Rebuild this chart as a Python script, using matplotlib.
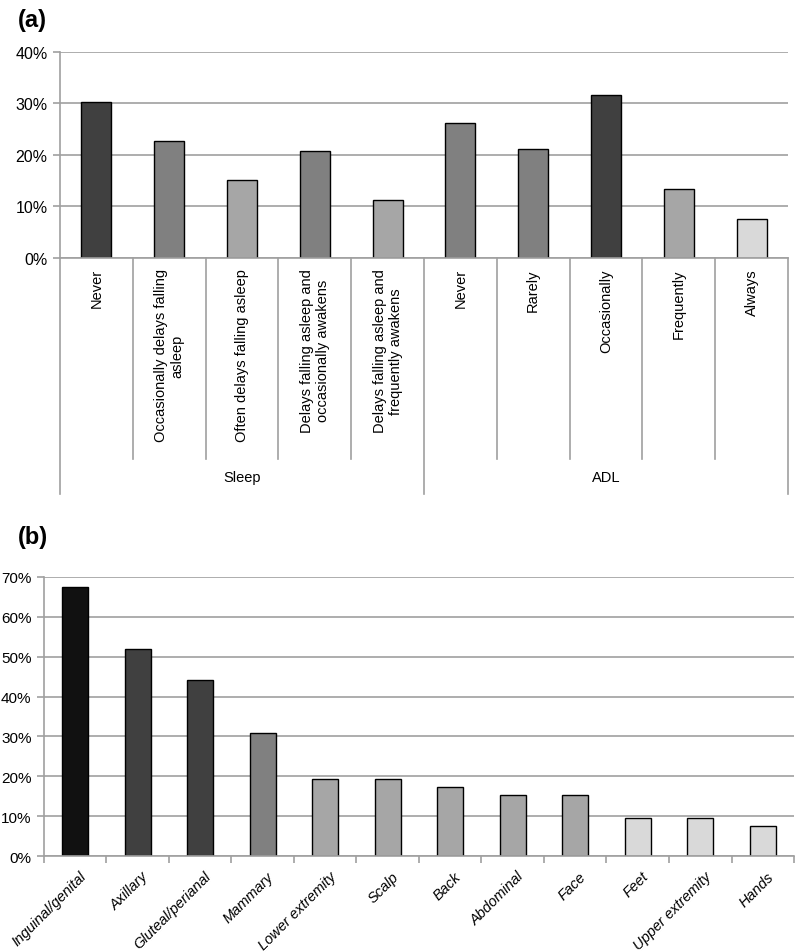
import matplotlib
matplotlib.use('Agg')
import matplotlib.pyplot as plt
import numpy as np

plt.rcParams['font.family'] = ['Liberation Sans', 'DejaVu Sans']

# panel (a)
cats_a = ['Never', 'Occasionally delays falling\nasleep', 'Often delays falling asleep',
          'Delays falling asleep and\noccasionally awakens', 'Delays falling asleep and\nfrequently awakens',
          'Never', 'Rarely', 'Occasionally', 'Frequently', 'Always']
vals_a = [30.2, 22.6, 15.1, 20.8, 11.3, 26.1, 21.2, 31.6, 13.4, 7.6]
cols_a = ['#404040', '#808080', '#a6a6a6', '#808080', '#a6a6a6',
          '#808080', '#808080', '#404040', '#a6a6a6', '#d9d9d9']
groups_a = ['Sleep', 'ADL']
group_size = 5

# panel (b)
cats_b = ['Inguinal/genital', 'Axillary', 'Gluteal/perianal', 'Mammary', 'Lower extremity',
          'Scalp', 'Back', 'Abdominal', 'Face', 'Feet', 'Upper extremity', 'Hands']
vals_b = [67.4, 52.0, 44.2, 30.8, 19.3, 19.3, 17.3, 15.4, 15.4, 9.6, 9.6, 7.7]
cols_b = ['#111111', '#404040', '#404040', '#808080', '#a6a6a6', '#a6a6a6', '#a6a6a6',
          '#a6a6a6', '#a6a6a6', '#d9d9d9', '#d9d9d9', '#d9d9d9']

grid_c = '#a0a0a0'
fs = 10.5

fig = plt.figure(figsize=(7.98, 9.53), dpi=100)

def style(ax, ymax, tfs):
    ax.set_ylim(0, ymax)
    ax.set_yticks(np.arange(0, ymax + 1, 10))
    ax.set_yticklabels(['%d%%' % t for t in np.arange(0, ymax + 1, 10)], fontsize=tfs)
    ax.yaxis.grid(True, color=grid_c, linewidth=1.2)
    ax.set_axisbelow(True)
    for s in ['top', 'right']:
        ax.spines[s].set_visible(False)
    for s in ['left', 'bottom']:
        ax.spines[s].set_color(grid_c)
        ax.spines[s].set_linewidth(1.2)
    ax.tick_params(axis='y', color=grid_c, length=5, width=1.2, pad=4)

# ---- (a)
ax1 = fig.add_axes([0.0752, 0.7282, 0.9123, 0.2165])
x = np.arange(len(vals_a))
ax1.bar(x, vals_a, width=0.41, color=cols_a, edgecolor='black', linewidth=1)
ax1.set_xlim(-0.5, len(vals_a) - 0.5)
style(ax1, 40, 11.5)
ax1.set_xticks([])
tr = ax1.get_xaxis_transform()
for i, lab in enumerate(cats_a):
    ax1.text(i, -0.05, lab, rotation=90, ha='center', va='top', fontsize=fs,
             multialignment='center', transform=tr)
for b in range(len(vals_a) + 1):
    bottom = -1.144 if b % group_size == 0 else -0.974
    ax1.plot([b - 0.5, b - 0.5], [0, bottom], color=grid_c, lw=1.2,
             transform=tr, clip_on=False)
for g, name in enumerate(groups_a):
    ax1.text(g * group_size + (group_size - 1) / 2, -1.062, name, ha='center', va='center',
             fontsize=fs, transform=tr)
fig.text(0.022, 0.978, '(a)', fontsize=17, fontweight='bold', ha='left', va='center')

# ---- (b)
ax2 = fig.add_axes([0.0551, 0.1004, 0.9399, 0.2934])
x = np.arange(len(vals_b))
ax2.bar(x, vals_b, width=0.41, color=cols_b, edgecolor='black', linewidth=1)
ax2.set_xlim(-0.5, len(vals_b) - 0.5)
style(ax2, 70, 11)
ax2.set_xticks(np.arange(len(vals_b) + 1) - 0.5)
ax2.set_xticklabels([])
ax2.tick_params(axis='x', color=grid_c, length=5, width=1.2)
tr2 = ax2.get_xaxis_transform()
for i, lab in enumerate(cats_b):
    ax2.text(i + 0.06, -0.045, lab, rotation=45, ha='right', va='top', rotation_mode='anchor',
             fontsize=fs, style='italic', transform=tr2)
fig.text(0.022, 0.436, '(b)', fontsize=17, fontweight='bold', ha='left', va='center')

fig.savefig('out.png', dpi=100)
